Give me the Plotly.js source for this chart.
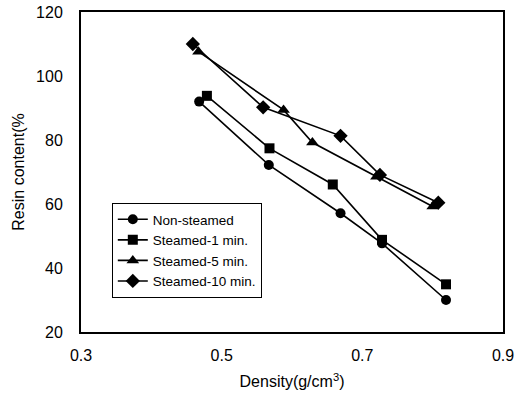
<!DOCTYPE html>
<html>
<head>
<meta charset="utf-8">
<script src="https://cdn.plot.ly/plotly-3.0.1.min.js"></script>
<style>html,body{margin:0;padding:0;background:#fff;}#chart{width:520px;height:401px;}</style>
</head>
<body>
<div id="chart"></div>
<script>
const seriesNames = ["Non-steamed", "Steamed-1 min.", "Steamed-5 min.", "Steamed-10 min."];
const nonSteamedX = [0.468, 0.567, 0.669, 0.728, 0.819];
const nonSteamedY = [92, 72.2, 57.1, 47.7, 30];
const steamed1X = [0.479, 0.568, 0.658, 0.728, 0.819];
const steamed1Y = [93.8, 77.4, 66.1, 48.8, 34.9];
const steamed5X = [0.467, 0.588, 0.629, 0.720, 0.800];
const steamed5Y = [107.6, 89.4, 79.2, 68.5, 59.2];
const steamed10X = [0.459, 0.559, 0.669, 0.725, 0.808];
const steamed10Y = [110, 90.2, 81.3, 69.1, 60.4];
const xTicks = [0.3, 0.5, 0.7, 0.9];
const yTicks = [20, 40, 60, 80, 100, 120];

const symbols = ["circle", "square", "triangle-up", "diamond"];
const sizes = [10, 10, 11, 11];
const xs = [nonSteamedX, steamed1X, steamed5X, steamed10X];
const ys = [nonSteamedY, steamed1Y, steamed5Y, steamed10Y];

const traces = seriesNames.map((n, i) => ({
  x: xs[i], y: ys[i], name: n, type: "scatter", mode: "lines+markers",
  line: {color: "#000", width: 1.6},
  marker: {symbol: symbols[i], size: sizes[i], color: "#000"}
}));

const font = {family: "Liberation Sans, Arial, sans-serif", color: "#000"};
const layout = {
  width: 520, height: 401,
  margin: {l: 81, r: 17, t: 12, b: 69},
  paper_bgcolor: "#fff", plot_bgcolor: "#fff",
  font: font,
  showlegend: true,
  legend: {
    x: 0.073, y: 0.403, xanchor: "left", yanchor: "top",
    bgcolor: "#fff", bordercolor: "#000", borderwidth: 1,
    font: {family: font.family, size: 13.5, color: "#000"},
    tracegroupgap: 0, itemwidth: 30
  },
  xaxis: {
    range: [0.3, 0.9], tickvals: xTicks, ticktext: xTicks.map(v => v.toFixed(1)),
    showgrid: false, zeroline: false, showline: true, linecolor: "#000", linewidth: 2,
    mirror: true, ticks: "", ticklabelstandoff: 8,
    tickfont: {family: font.family, size: 16, color: "#000"},
    title: {text: "Density(g/cm<sup>3</sup>)", font: {family: font.family, size: 16, color: "#000"}, standoff: 13}
  },
  yaxis: {
    range: [20, 120], tickvals: yTicks,
    showgrid: false, zeroline: false, showline: true, linecolor: "#000", linewidth: 2,
    mirror: true, ticks: "", ticklabelstandoff: 13,
    tickfont: {family: font.family, size: 16, color: "#000"},
    title: {text: "Resin content(%", font: {family: font.family, size: 16, color: "#000"}, standoff: 7}
  }
};
Plotly.newPlot("chart", traces, layout, {displayModeBar: false, staticPlot: true});
</script>
</body>
</html>
